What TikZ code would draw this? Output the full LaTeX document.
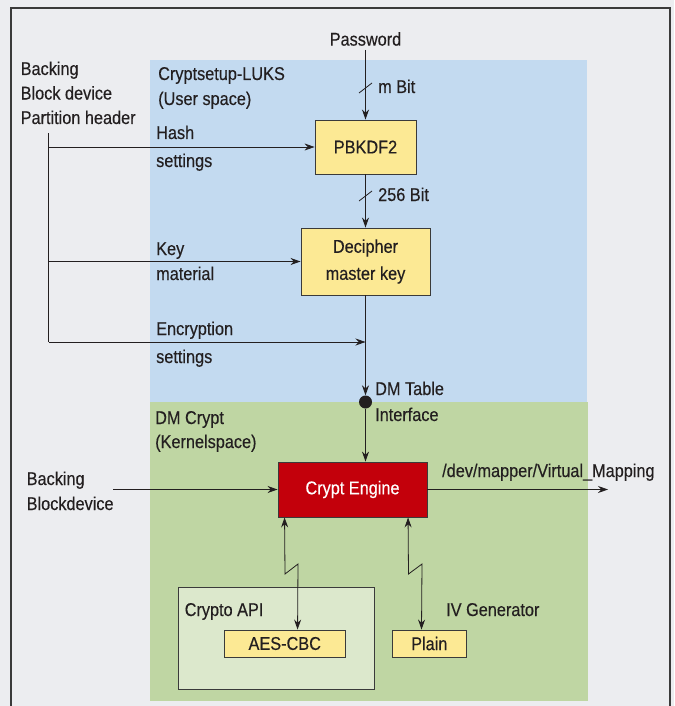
\documentclass[tikz,border=0pt]{standalone}
\usepackage{fontspec}
\setmainfont{Liberation Sans}[FakeStretch=0.88,FakeBold=0.35]
\usetikzlibrary{arrows.meta}
\definecolor{bggray}{HTML}{ECEDF0}
\definecolor{frameg}{HTML}{3A3A3A}
\definecolor{userblue}{HTML}{C3DAF0}
\definecolor{kerngreen}{HTML}{BFD6A3}
\definecolor{apigreen}{HTML}{DCE8CC}
\definecolor{boxyellow}{HTML}{FCE994}
\definecolor{engred}{HTML}{C3000B}
\definecolor{ink}{HTML}{231F20}
\begin{document}
\begin{tikzpicture}[x=1pt,y=-1pt,
  every node/.style={font=\fontsize{18.5}{22}\selectfont, text=ink, inner sep=0pt},
  lbl/.style={anchor=base west},
  procbox/.style={draw=frameg, line width=0.9pt, fill=boxyellow, align=center},
  conn/.style={draw=ink, line width=0.8pt},
  arr/.style={conn, -{Stealth[length=10pt,width=7pt]}},
  dblarr/.style={conn, {Stealth[length=10pt,width=7pt]}-{Stealth[length=10pt,width=7pt]}},
  tick/.style={draw=ink, line width=0.8pt}
]
\useasboundingbox (0,0) rectangle (674,706);
% background and frame
\fill[bggray] (0,0) rectangle (674,706);
\draw[frameg, line width=1.4pt, fill=bggray] (11,8) rectangle (670,712);
% regions
\fill[userblue] (150,60) rectangle (587,402);
\fill[kerngreen] (150,402) rectangle (588,701);
\draw[frameg, line width=0.9pt, fill=apigreen] (178.7,587) rectangle (374,689);

% boxes
\node[procbox, minimum width=101pt, minimum height=54pt] (pbkdf) at (365.5,147) {PBKDF2};
\node[procbox, minimum width=129pt, minimum height=67pt] (dec) at (365.5,261.5) {Decipher\\[5pt]master key};
\node[draw=frameg, line width=0.9pt, fill=engred, minimum width=149pt, minimum height=55pt, text=white] (engine) at (352.5,489.5) {Crypt Engine};
\node[procbox, minimum width=121.5pt, minimum height=27pt] (aes) at (284.75,643.5) {AES-CBC};
\node[procbox, minimum width=73.3pt, minimum height=27pt] (plain) at (429.3,643.5) {Plain};
\node[circle, fill=ink, minimum size=13pt] (dot) at (365.5,402) {};

% labels
\node (pwd) at (365.5,39) {Password};
\node[lbl] (lb1) at (20.5,75) {Backing};
\node[lbl] (lb2) at (20.5,99.5) {Block device};
\node[lbl] (lb3) at (20.5,124) {Partition header};
\node[lbl] (lu1) at (158,80) {Cryptsetup-LUKS};
\node[lbl] (lu2) at (158,105) {(User space)};
\node[lbl] (lh1) at (156,139) {Hash};
\node[lbl] (lh2) at (156,167) {settings};
\node[lbl] (lk1) at (156,255) {Key};
\node[lbl] (lk2) at (156,280) {material};
\node[lbl] (le1) at (156,335) {Encryption};
\node[lbl] (le2) at (156,363) {settings};
\node[lbl] (lm) at (378,93) {m Bit};
\node[lbl] (l256) at (378,201) {256 Bit};
\node[lbl] (ldm1) at (375,395) {DM Table};
\node[lbl] (ldm2) at (375,421) {Interface};
\node[lbl] (lk3) at (155,424) {DM Crypt};
\node[lbl] (lk4) at (155,448) {(Kernelspace)};
\node[lbl] (lbb1) at (26.5,485) {Backing};
\node[lbl] (lbb2) at (26.5,510) {Blockdevice};
\node[lbl] (ldev) at (442,477) {/dev/mapper/Virtual\_Mapping};
\node[lbl] (lapi) at (184.5,616) {Crypto API};
\node[lbl] (liv) at (446,616) {IV Generator};

% coordinates for free ends
\coordinate (pwdout) at (365.5,50);
\coordinate (bustop) at (48.5,133);
\coordinate (busbot) at (48.5,342);
\coordinate (encin) at (365.5,342);
\coordinate (bbin) at (113,489.5);
\coordinate (devout) at (608,489.5);

% connectors
\draw[arr] (pwdout) -- (pbkdf.north);
\draw[tick] (359,93) -- (372,83);
\draw[arr] (pbkdf.south) -- (dec.north);
\draw[tick] (359,201) -- (372,191);
\draw[conn] (bustop) -- (busbot);
\draw[arr] (bustop |- pbkdf.west) -- (pbkdf.west);
\draw[arr] (bustop |- dec.west) -- (dec.west);
\draw[arr] (busbot) -- (encin);
\draw[arr] (dec.south) -- (dot.north);
\draw[arr] (dot.south) -- (dot.south |- engine.north);
\draw[arr] (bbin) -- (engine.west);
\draw[arr] (engine.east) -- (devout);
\draw[dblarr] ([xshift=7pt]engine.south west) -- (285,574) -- (298,564) -- ([xshift=74pt]aes.north west);
\draw[dblarr] ([xshift=130.5pt]engine.south west) -- (408.5,574) -- (422,564) -- ([xshift=29.3pt]plain.north west);
\end{tikzpicture}
\end{document}
